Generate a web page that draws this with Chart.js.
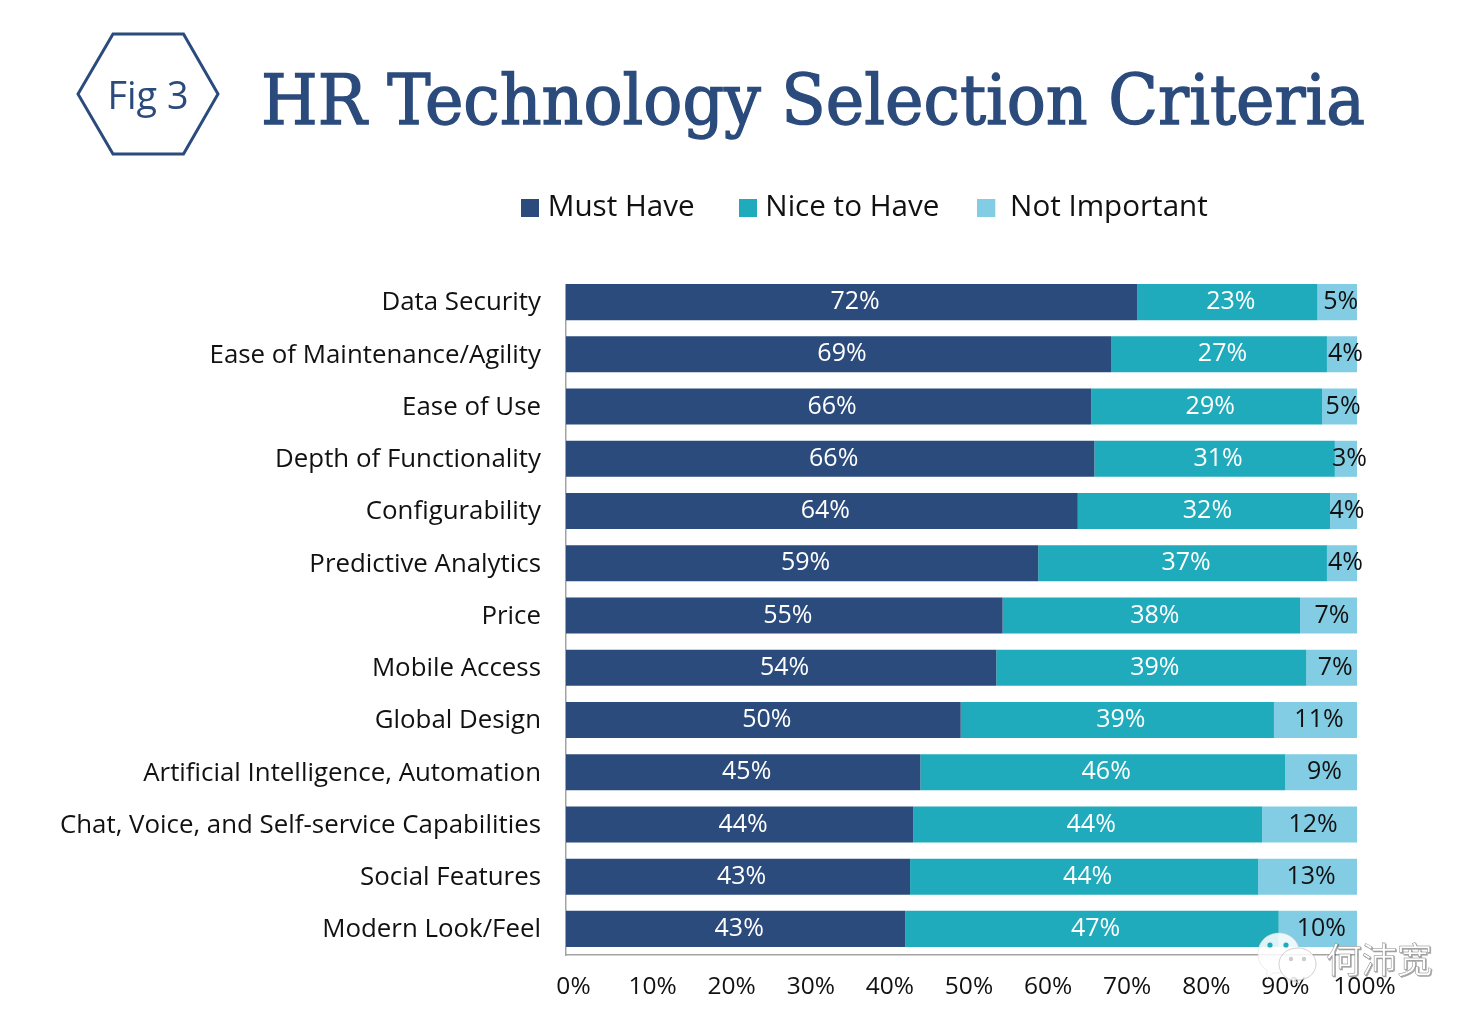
<!DOCTYPE html>
<html>
<head>
<meta charset="utf-8">
<script src="https://cdn.jsdelivr.net/npm/chart.js@4"></script>
<style>
html,body{margin:0;padding:0;background:#fff;width:1482px;height:1026px;overflow:hidden}
#c{position:absolute;left:0;top:0}
svg{position:absolute;left:0;top:0;pointer-events:none}
</style>
</head>
<body>
<canvas id="c" width="1482" height="1026"></canvas>
<svg width="1482" height="1026" xmlns="http://www.w3.org/2000/svg">
  <polygon points="78,94 113,34 183.5,34 218,94 183.5,154 113,154" fill="none" stroke="#2b4b7c" stroke-width="3"/>
  <text x="148" y="109" text-anchor="middle" font-family="Open Sans" font-size="39" fill="#2b4b7c" textLength="81" lengthAdjust="spacingAndGlyphs">Fig 3</text>
  <text x="261" y="124" font-family="DejaVu Serif Condensed, DejaVu Serif" font-size="70" fill="#2b4b7c" stroke="#2b4b7c" stroke-width="1.3" textLength="1104" lengthAdjust="spacingAndGlyphs">HR Technology Selection Criteria</text>
  <rect x="562" y="270" width="8" height="14" fill="#fff"/>
  <g opacity="0.86">
    <path d="M1279 933c11.500 0 20.500 9 20.500 20s-9 20-20.500 20c-2 0-4 0-6 0l-6 5 0-8c-6-3-9-10-9-17 0-11 9-20 21-20z" fill="#fff" stroke="#ddd" stroke-width="0.6"/>
    <path d="M1298 948c10 0 18 7 18 16s-8 16-18 16c-2 0-3 0-4 0l6 4-9-4c-7-2-12-9-12-16 0-9 8-16 19-16z" fill="#fff" stroke="#bbb" stroke-width="0.8"/>
  </g>
  <circle cx="1270" cy="945" r="2.6" fill="#1fabbb"/><circle cx="1286" cy="945" r="2.6" fill="#1fabbb"/>
  <circle cx="1291" cy="959" r="2.2" fill="#ccc"/><circle cx="1304" cy="959" r="2.2" fill="#ccc"/>
  <text x="1326" y="973" font-family="Noto Sans CJK SC" font-size="35.5" fill="#fff" stroke="#888" stroke-width="0.5" style="filter:drop-shadow(1px 1px 0 rgba(0,0,0,.35))">何沛宽</text>
</svg>
<script>
const categories = ["Data Security","Ease of Maintenance/Agility","Ease of Use","Depth of Functionality","Configurability","Predictive Analytics","Price","Mobile Access","Global Design","Artificial Intelligence, Automation","Chat, Voice, and Self-service Capabilities","Social Features","Modern Look/Feel"];
const mustHave = [72.2,68.9,66.4,66.8,64.7,59.7,55.2,54.4,49.9,44.8,43.9,43.5,42.9];
const niceToHave = [22.8,27.3,29.2,30.4,31.9,36.5,37.6,39.2,39.6,46.1,44.1,44.0,47.2];
const notImportant = [5.0,3.8,4.4,2.8,3.4,3.8,7.2,6.4,10.5,9.1,12.0,12.5,9.9];
const mustHaveLabels = ["72%","69%","66%","66%","64%","59%","55%","54%","50%","45%","44%","43%","43%"];
const niceToHaveLabels = ["23%","27%","29%","31%","32%","37%","38%","39%","39%","46%","44%","44%","47%"];
const notImportantLabels = ["5%","4%","5%","3%","4%","4%","7%","7%","11%","9%","12%","13%","10%"];
const xTicks = ["0%","10%","20%","30%","40%","50%","60%","70%","80%","90%","100%"];

const NAVY="#2b4b7c", TEAL="#1fabbb", SKY="#82cde4", INK="#111111", FONT="Open Sans";

function swatch(color, canvasWidth){
  const s=document.createElement("canvas");
  s.width=canvasWidth; s.height=18;
  const g=s.getContext("2d"); g.fillStyle=color; g.fillRect(0,0,18,18);
  return s;
}
const swatches=[swatch(NAVY,18),swatch(TEAL,18),swatch(SKY,30)];

const placeHeader={
  id:"placeHeader",
  afterLayout(chart){
    chart.legend.left=477; chart.legend.right=1482; chart.legend.top=143;
  }
};
const barLabels={
  id:"barLabels",
  afterDatasetsDraw(chart){
    const {ctx}=chart;
    ctx.save();
    ctx.font="25px '"+FONT+"'";
    ctx.textAlign="center"; ctx.textBaseline="middle";
    chart.data.datasets.forEach((ds,d)=>{
      chart.getDatasetMeta(d).data.forEach((bar,i)=>{
        ctx.fillStyle=ds.labelColor;
        ctx.fillText(ds.valueLabels[i],(bar.x+bar.base)/2+3.5,bar.y);
      });
    });
    ctx.restore();
  }
};

new Chart(document.getElementById("c"),{
  type:"bar",
  data:{
    labels:categories,
    datasets:[
      {label:"Must Have",data:mustHave,backgroundColor:NAVY,valueLabels:mustHaveLabels,labelColor:"#ffffff"},
      {label:"Nice to Have",data:niceToHave,backgroundColor:TEAL,valueLabels:niceToHaveLabels,labelColor:"#ffffff"},
      {label:"Not Important",data:notImportant,backgroundColor:SKY,valueLabels:notImportantLabels,labelColor:INK}
    ]
  },
  plugins:[placeHeader,barLabels],
  options:{
    responsive:false,
    animation:false,
    indexAxis:"y",
    layout:{padding:{right:125,top:186.4}},
    datasets:{bar:{barPercentage:0.69,categoryPercentage:1,borderWidth:0}},
    scales:{
      x:{
        stacked:true,min:0,max:100,
        grid:{display:false},
        border:{color:"#a3a3a3",width:1.5},
        afterFit(s){s.height=71},
        ticks:{stepSize:10,autoSkip:false,maxRotation:0,padding:9,labelOffset:7.5,color:INK,
          font:{family:FONT,size:24.5},
          callback:(v,i)=>xTicks[i]}
      },
      y:{
        stacked:true,
        grid:{display:false},
        border:{color:"#a3a3a3",width:1.5},
        afterFit(s){s.width=566},
        ticks:{padding:17,labelOffset:1,autoSkip:false,color:INK,font:{family:FONT,size:25.85}}
      }
    },
    plugins:{
      tooltip:{enabled:false},
      title:{display:false},
      legend:{display:true,position:"top",align:"start",
        labels:{
          color:INK,
          font:{family:FONT,size:29.6},
          usePointStyle:true,pointStyleWidth:6,boxHeight:18,padding:50,
          generateLabels(chart){
            return Chart.defaults.plugins.legend.labels.generateLabels(chart).map((it,i)=>Object.assign(it,{pointStyle:swatches[i]}));
          }
        }
      }
    }
  }
});
</script>
</body>
</html>
